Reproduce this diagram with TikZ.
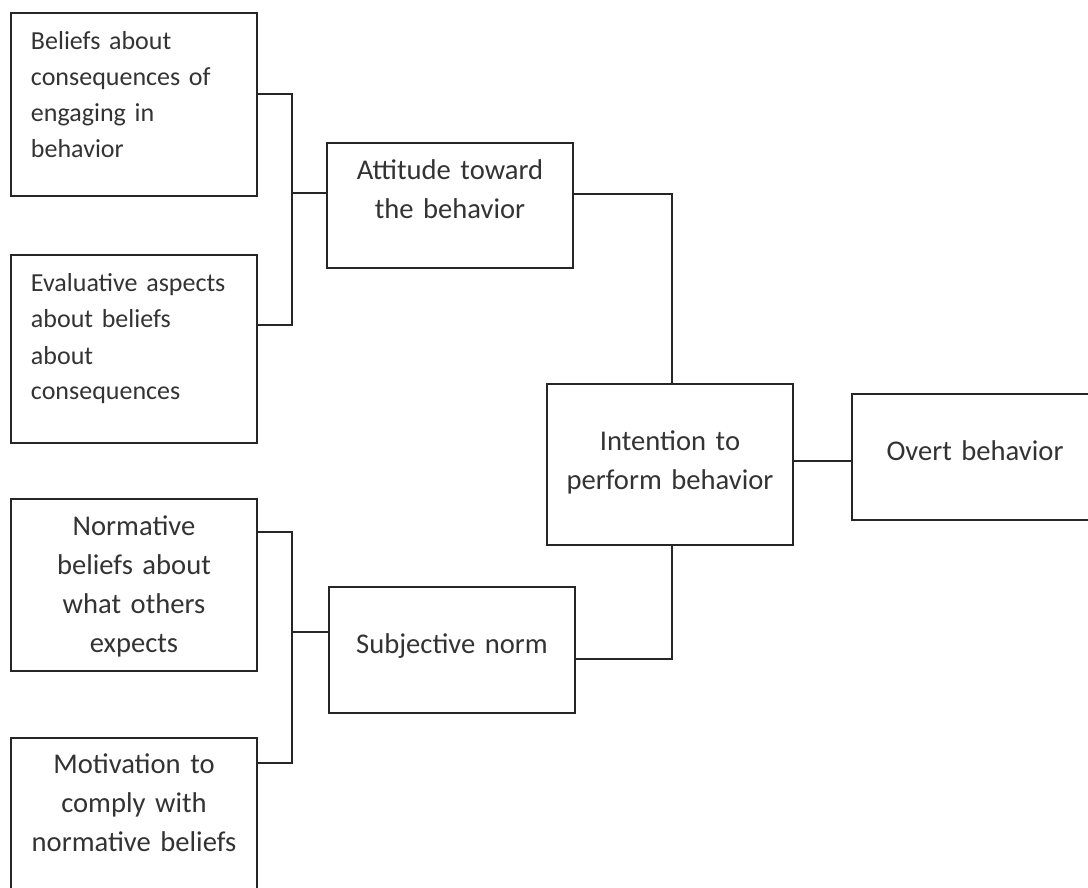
\documentclass[tikz,border=0pt]{standalone}
\usepackage{fontspec}
\setmainfont{Carlito}
\usetikzlibrary{calc}

\definecolor{linecol}{HTML}{262626}
\definecolor{txtcol}{HTML}{333333}

\tikzset{
  box/.style={draw=linecol, line width=1pt, inner ysep=0pt, text=txtcol},
  cbox/.style={box, inner xsep=0pt, text width=123pt, align=center,
    font=\fontsize{14.3}{19.5}\selectfont},
  lbox/.style={box, inner xsep=10pt, text width=103pt, align=left,
    font=\fontsize{13}{18}\selectfont},
  conn/.style={draw=linecol, line width=1pt}
}

\begin{document}
\begin{tikzpicture}[x=0.5pt,y=-0.5pt]
            \clip (0,0) rectangle (1088,888);

            \node[lbox, text height=18.5pt, text depth=73pt] (Beliefs) at (134,104.5) {Beliefs about\\
                    consequences of\\
                    engaging in\\
                    behavior};
            \node[lbox, text height=18.5pt, text depth=75.5pt] (Evaluative) at (134,349) {Evaluative aspects\\
                    about beliefs\\
                    about\\
                    consequences};
            \node[cbox, text height=18.5pt, text depth=44pt] (Attitude) at (450,205.5) {Attitude toward\\the behavior};

            \node[cbox, text height=18pt, text depth=68pt] (Normative) at (134,585) {Normative\\
                    beliefs about\\
                    what others\\
                    expects};
            \node[cbox, text height=17.5pt, text depth=76.5pt] (Motivation) at (134,832) {Motivation to\\
                    comply with\\
                    normative beliefs};
            \node[cbox, text height=33pt, text depth=30pt] (Subjective) at (452,650) {Subjective norm};

            \node[cbox, text height=33pt, text depth=47.5pt] (Intention) at (670,464.5) {Intention to\\perform behavior};
            \node[cbox, text height=33pt, text depth=30pt] (Overt) at (975,457) {Overt behavior};

            \coordinate (ja) at (292,94);
            \coordinate (jb) at (292,325);
            \coordinate (jc) at (292,193);
            \coordinate (jd) at (672,194);
            \coordinate (je) at (672,659);
            \coordinate (jf) at (820,461);
            \coordinate (jg) at (292,532);
            \coordinate (jh) at (292,763);
            \coordinate (ji) at (292,632);

            \draw[conn] (Beliefs.east |- ja) -| (jb) -- (Evaluative.east |- jb);
            \draw[conn] (jc) -- (Attitude.west |- jc);
            \draw[conn] (Normative.east |- jg) -| (jh) -- (Motivation.east |- jh);
            \draw[conn] (ji) -- (Subjective.west |- ji);
            \draw[conn] (Attitude.east |- jd) -| (Intention.north -| jd);
            \draw[conn] (Subjective.east |- je) -| (Intention.south -| je);
            \draw[conn] (Intention.east |- jf) -- (Overt.west |- jf);

        \end{tikzpicture}
\end{document}
